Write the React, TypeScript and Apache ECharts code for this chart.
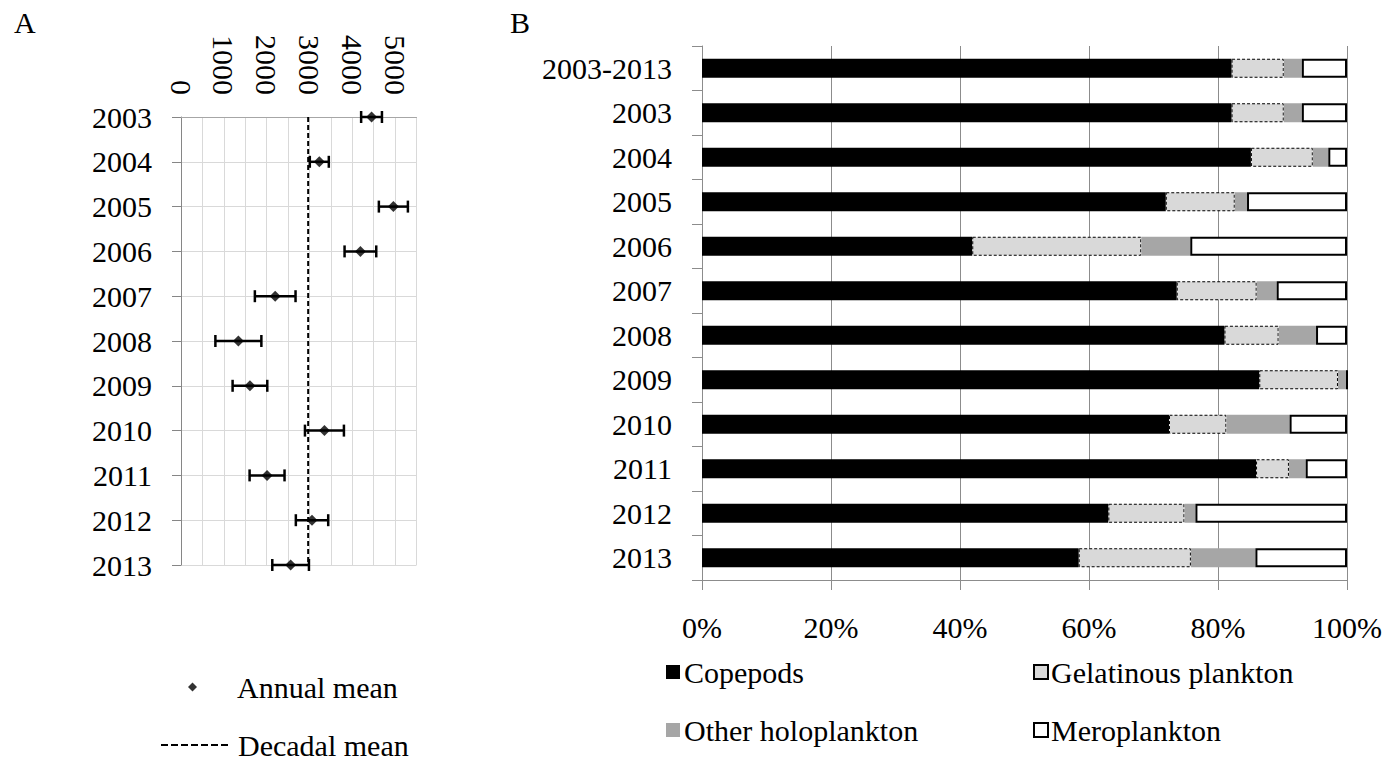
import React, { useEffect, useRef } from "react";
import * as echarts from "echarts";

const FONT = "Liberation Serif";

// Panel A
const years = ["2003", "2004", "2005", "2006", "2007", "2008", "2009", "2010", "2011", "2012", "2013"];
const annualMean = [4450, 3230, 4960, 4190, 2200, 1340, 1610, 3350, 2010, 3060, 2560];
const annualErr = [243, 222, 339, 370, 475, 537, 405, 455, 408, 378, 428];
const decadalMean = 2970;
const axisATicks = [0, 1000, 2000, 3000, 4000, 5000];

// Panel B (percent)
const periods = ["2003-2013", "2003", "2004", "2005", "2006", "2007", "2008", "2009", "2010", "2011", "2012", "2013"];
const copepods = [82.1, 82.1, 85.1, 71.9, 41.9, 73.6, 81.0, 86.4, 72.4, 85.9, 63.0, 58.4];
const gelatinous = [8.1, 8.1, 9.6, 10.7, 26.2, 12.4, 8.4, 12.2, 8.9, 5.1, 11.8, 17.4];
const otherHolo = [2.8, 2.8, 2.4, 1.9, 7.6, 3.1, 5.8, 1.4, 9.8, 2.6, 1.7, 10.0];
const meroplankton = [7.0, 7.0, 2.9, 15.5, 24.3, 10.9, 4.8, 0.0, 8.9, 6.4, 23.5, 14.2];

export default function App() {
  const ref = useRef<HTMLDivElement>(null);
  useEffect(() => {
    if (!ref.current) return;
    const chart = echarts.init(ref.current, undefined, { renderer: "svg" });
    const txt = { fontFamily: FONT, fontSize: 30, color: "#000" };
    const errData = years.map((_, i) => [annualMean[i] - annualErr[i], i, annualMean[i] + annualErr[i]]);
    const option: any = {
      animation: false,
      backgroundColor: "#fff",
      textStyle: { fontFamily: FONT },
      graphic: [
        { type: "text", left: 14, top: 7, style: { text: "A", fontFamily: FONT, fontSize: 30, fill: "#000" } },
        { type: "text", left: 510, top: 7, style: { text: "B", fontFamily: FONT, fontSize: 30, fill: "#000" } },
      ],
      grid: [
        { left: 181, top: 117, width: 235.5, height: 448 },
        { left: 702, top: 46, width: 645, height: 534 },
      ],
      xAxis: [
        {
          gridIndex: 0,
          type: "value",
          position: "top",
          min: 0,
          max: 5500,
          interval: 500,
          axisLabel: {
            ...txt,
            rotate: 90,
            margin: 22,
            formatter: (v: number) => (axisATicks.indexOf(v) >= 0 ? String(v) : ""),
          },
          axisLine: { show: true, lineStyle: { color: "#a6a6a6", width: 1 } },
          axisTick: { show: false },
          splitLine: { show: true, lineStyle: { color: "#d9d9d9", width: 1 } },
        },
        {
          gridIndex: 1,
          type: "value",
          min: 0,
          max: 100,
          interval: 20,
          axisLabel: { ...txt, margin: 32, formatter: "{value}%" },
          axisLine: { show: true, lineStyle: { color: "#8c8c8c", width: 1 } },
          axisTick: { show: true, length: 10, lineStyle: { color: "#8c8c8c" } },
          splitLine: { show: true, lineStyle: { color: "#8c8c8c", width: 1 } },
        },
      ],
      yAxis: [
        {
          gridIndex: 0,
          type: "category",
          data: years,
          inverse: true,
          boundaryGap: false,
          axisLine: { show: true, lineStyle: { color: "#868686", width: 1 } },
          axisTick: { show: true, length: 9, lineStyle: { color: "#868686" } },
          axisLabel: { ...txt, margin: 29 },
          splitLine: { show: true, lineStyle: { color: "#d9d9d9", width: 1 } },
        },
        {
          gridIndex: 1,
          type: "category",
          data: periods,
          inverse: true,
          axisLine: { show: true, lineStyle: { color: "#8c8c8c", width: 1 } },
          axisTick: { show: true, length: 10, lineStyle: { color: "#8c8c8c" } },
          axisLabel: { ...txt, margin: 30 },
          splitLine: { show: false },
        },
      ],
      legend: [
        {
          data: ["Annual mean"],
          left: 188,
          top: 672,
          padding: 0,
          itemWidth: 9,
          itemHeight: 9,
          textStyle: { ...txt, padding: [0, 0, 0, 35] },
        },
        {
          data: ["Decadal mean"],
          left: 160,
          top: 730,
          padding: 0,
          itemWidth: 68,
          itemHeight: 10,
          itemStyle: { opacity: 0 },
          lineStyle: { type: [7, 3], width: 2 },
          textStyle: { ...txt, padding: [0, 0, 0, 4] },
        },
        {
          data: ["Copepods", "Other holoplankton"],
          orient: "vertical",
          left: 666,
          top: 657,
          padding: 0,
          itemGap: 28,
          itemWidth: 14,
          itemHeight: 14,
          icon: "rect",
          textStyle: { ...txt, padding: [0, 0, 0, -1] },
        },
        {
          data: ["Gelatinous plankton", "Meroplankton"],
          orient: "vertical",
          left: 1033,
          top: 657,
          padding: 0,
          itemGap: 28,
          itemWidth: 14,
          itemHeight: 14,
          icon: "rect",
          textStyle: { ...txt, padding: [0, 0, 0, -2] },
        },
      ],
      series: [
        {
          name: "Error",
          type: "custom",
          xAxisIndex: 0,
          yAxisIndex: 0,
          encode: { x: [0, 2], y: 1 },
          data: errData,
          z: 3,
          renderItem: (params: any, api: any) => {
            const p1 = api.coord([api.value(0), api.value(1)]);
            const p2 = api.coord([api.value(2), api.value(1)]);
            const h = 6;
            const st = { stroke: "#000", lineWidth: 2.5 };
            return {
              type: "group",
              children: [
                { type: "line", shape: { x1: p1[0], y1: p1[1], x2: p2[0], y2: p2[1] }, style: st },
                { type: "line", shape: { x1: p1[0], y1: p1[1] - h, x2: p1[0], y2: p1[1] + h }, style: st },
                { type: "line", shape: { x1: p2[0], y1: p2[1] - h, x2: p2[0], y2: p2[1] + h }, style: st },
              ],
            };
          },
        },
        {
          name: "Annual mean",
          type: "scatter",
          xAxisIndex: 0,
          yAxisIndex: 0,
          symbol: "diamond",
          symbolSize: 11,
          itemStyle: { color: "#000" },
          z: 4,
          data: years.map((_, i) => [annualMean[i], i]),
        },
        {
          name: "Decadal mean",
          type: "line",
          xAxisIndex: 0,
          yAxisIndex: 0,
          symbol: "none",
          lineStyle: { color: "#000", width: 2, type: [5, 3] },
          itemStyle: { color: "#000" },
          z: 2,
          data: [
            [decadalMean, 0],
            [decadalMean, years.length - 1],
          ],
        },
        {
          name: "Copepods",
          type: "bar",
          xAxisIndex: 1,
          yAxisIndex: 1,
          stack: "total",
          barWidth: 19,
          itemStyle: { color: "#000" },
          data: copepods,
        },
        {
          name: "Gelatinous plankton",
          type: "bar",
          xAxisIndex: 1,
          yAxisIndex: 1,
          stack: "total",
          barWidth: 19,
          itemStyle: { color: "#d9d9d9", borderColor: "#000", borderWidth: 1, borderType: [3, 2] },
          data: gelatinous,
        },
        {
          name: "Other holoplankton",
          type: "bar",
          xAxisIndex: 1,
          yAxisIndex: 1,
          stack: "total",
          barWidth: 19,
          itemStyle: { color: "#a6a6a6" },
          data: otherHolo,
        },
        {
          name: "Meroplankton",
          type: "bar",
          xAxisIndex: 1,
          yAxisIndex: 1,
          stack: "total",
          barWidth: 19,
          itemStyle: { color: "#fff", borderColor: "#000", borderWidth: 2 },
          data: meroplankton,
        },
      ],
    };
    chart.setOption(option);
    return () => chart.dispose();
  }, []);
  return (
    <div
      ref={ref}
      style={{ position: "absolute", left: 0, top: 0, width: 1393, height: 771, background: "#fff" }}
    />
  );
}
